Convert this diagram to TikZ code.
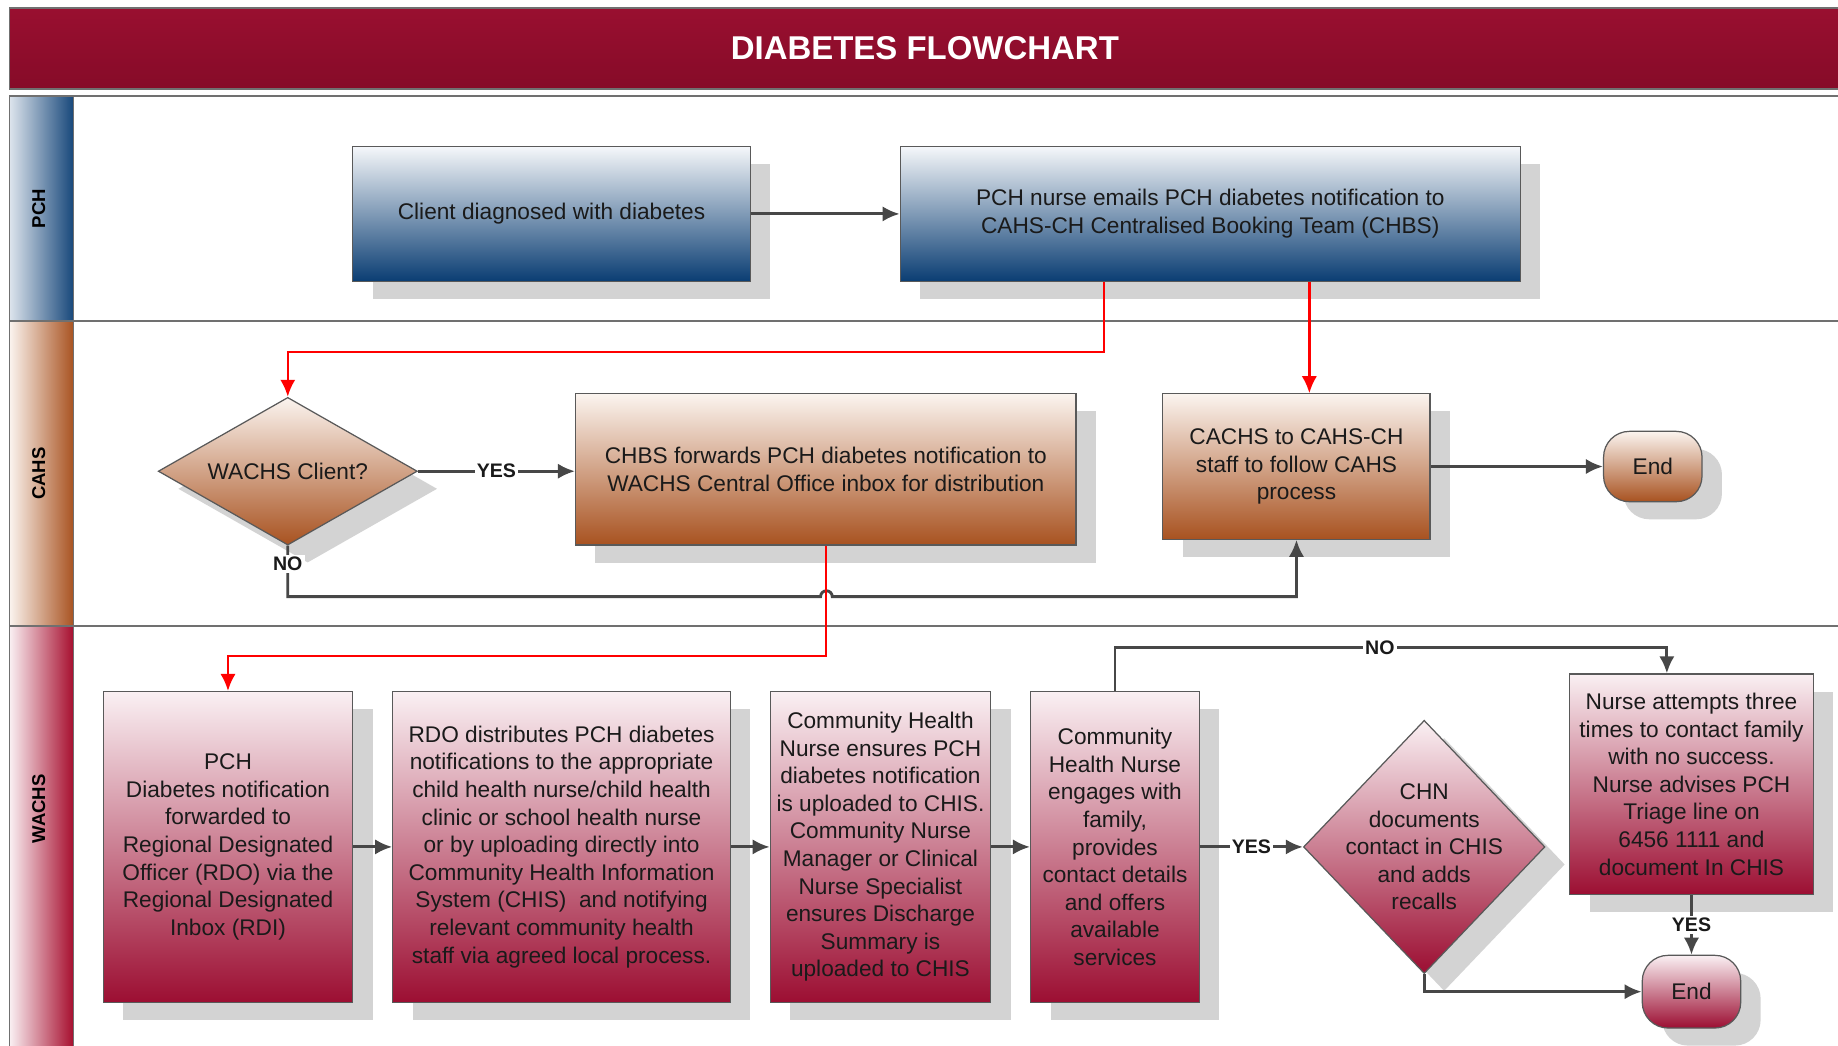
\documentclass[tikz,border=0pt]{standalone}
\usepackage{fontspec,graphicx}
\setmainfont{Liberation Sans}
\usetikzlibrary{arrows.meta,positioning,shapes.geometric,shadows}
\definecolor{crim}{HTML}{990F30}
\definecolor{crimdark}{HTML}{860B28}
\definecolor{navy}{HTML}{0A3D73}
\definecolor{navypale}{HTML}{F5F7FA}
\definecolor{rust}{HTML}{A85220}
\definecolor{rustpale}{HTML}{FBF4EF}
\definecolor{wine}{HTML}{9C0E32}
\definecolor{winepale}{HTML}{FAF0F3}
\definecolor{edge}{HTML}{595959}
\definecolor{wire}{HTML}{474747}
\definecolor{shadowgrey}{HTML}{D3D3D3}
\definecolor{lanerule}{HTML}{707070}
\definecolor{ink}{HTML}{1A1A1A}

\begin{document}
\begin{tikzpicture}[x=0.2mm,y=0.2mm,node distance=6.6mm,>={Latex[length=2.9mm,width=2.6mm]},every node/.style={font=\fontsize{11}{13.4}\selectfont,align=center,text=ink},shadowed/.style={drop shadow={shadow xshift=3.4mm,shadow yshift=-3mm,fill=shadowgrey,opacity=1}},pchbox/.style={draw=edge,line width=0.6pt,top color=navypale,bottom color=navy,shadowed,inner sep=2pt},cahsbox/.style={draw=edge,line width=0.6pt,top color=rustpale,bottom color=rust,shadowed,inner sep=2pt},wachsbox/.style={draw=edge,line width=0.6pt,top color=winepale,bottom color=wine,shadowed,inner sep=2pt,minimum height=53mm},decide/.style={diamond,inner sep=1pt},endbox/.style={rounded corners=4.4mm,minimum width=16.8mm,minimum height=12mm},gline/.style={draw=wire,line width=1.4pt},rline/.style={draw=red,line width=1.2pt},lbl/.style={font=\bfseries\fontsize{9.5}{11}\selectfont,fill=white,inner sep=1pt},lanetxt/.style={rotate=90,font=\bfseries\fontsize{9}{11}\selectfont,text=black}]
\useasboundingbox (0,0) rectangle (1568,-892);
\fill[white] (0,0) rectangle (1568,-892);
\shade[top color=crim,bottom color=crimdark,draw=lanerule,line width=0.8pt] (8,-7) rectangle (1600,-76);
\node[font=\bfseries\fontsize{16}{19}\selectfont,text=white] (title) at (789,-41) {DIABETES FLOWCHART};
\shade[left color=navypale!90!navy,right color=navy!95!white,draw=lanerule,line width=0.6pt] (8,-82) rectangle (63,-274);
\shade[left color=rustpale,right color=rust,draw=lanerule,line width=0.6pt] (8,-274) rectangle (63,-534);
\shade[left color=winepale,right color=wine!90!red,draw=lanerule,line width=0.6pt] (8,-534) rectangle (63,-900);
\draw[lanerule,line width=0.8pt] (1600,-82) -- (8,-82) -- (8,-900);
\draw[lanerule,line width=0.8pt] (8,-274) -- (1600,-274);
\draw[lanerule,line width=0.8pt] (8,-534) -- (1600,-534);
\node[lanetxt] (pchtag) at (33,-178) {PCH};
\node[lanetxt] (cahstag) at (33,-404) {CAHS};
\node[lanetxt] (wachstag) at (33,-690) {WACHS};

\node[pchbox,minimum width=67.8mm,minimum height=23mm] (client) at (470.5,-182.5) {Client diagnosed with diabetes};
\node[pchbox,minimum width=105.8mm,minimum height=23mm] (email) at (1032.5,-182.5) {PCH nurse emails PCH diabetes notification to\\CAHS-CH Centralised Booking Team (CHBS)};

\node[cahsbox,decide,aspect=1.75,minimum width=44.2mm,minimum height=25.2mm] (wachsq) at (245.5,-402) {WACHS Client?};
\node[cahsbox,minimum width=85.4mm,minimum height=25.8mm] (chbs) at (704.5,-400.5) {CHBS forwards PCH diabetes notification to\\WACHS Central Office inbox for distribution};
\node[cahsbox,minimum width=45.6mm,minimum height=24.8mm] (cachs) at (1106,-398) {CACHS to CAHS-CH\\staff to follow CAHS\\process};
\node[cahsbox,endbox] (cahsend) at (1410,-398) {End};
\coordinate (jump) at (700,-509);

\node[wachsbox,minimum width=42.6mm] (rdi) at (194.5,-722.5) {PCH\\Diabetes notification\\forwarded to\\Regional Designated\\Officer (RDO) via the\\Regional Designated\\Inbox (RDI)};
\node[wachsbox,minimum width=57.6mm,right=of rdi] (rdo) {RDO distributes PCH diabetes\\notifications to the appropriate\\child health nurse/child health\\clinic or school health nurse\\or by uploading directly into\\Community Health Information\\System (CHIS)\ \ and notifying\\relevant community health\\staff via agreed local process.};
\node[wachsbox,minimum width=37.6mm,right=of rdo] (upload) {Community Health\\Nurse ensures PCH\\diabetes notification\\is uploaded to CHIS.\\Community Nurse\\Manager or Clinical\\Nurse Specialist\\ensures Discharge\\Summary is\\uploaded to CHIS};
\node[wachsbox,minimum width=28.8mm,right=of upload] (engage) {Community\\Health Nurse\\engages with\\family,\\provides\\contact details\\and offers\\available\\services};
\node[wachsbox,decide,minimum width=41.2mm,minimum height=43.2mm,label={center:CHN\\documents\\contact in CHIS\\and adds\\recalls}] (chn) at (1215,-722.5) {};
\node[wachsbox,minimum width=41.6mm,minimum height=37.6mm] (triage) at (1443,-669) {Nurse attempts three\\times to contact family\\with no success.\\Nurse advises PCH\\Triage line on\\6456 1111 and\\document In CHIS};
\node[wachsbox,endbox,minimum height=12.4mm] (wachsend) at (1443,-846) {End};

\draw[gline,->] (client)--(email);
\draw[gline,->] (wachsq.east) -- node[lbl]{YES} (wachsq.east -| chbs.west);
\draw[gline,->] (cachs)--(cahsend);
\draw[gline,->] (wachsq.south) -- node[lbl,pos=0.35]{NO} (wachsq.south |- jump) -- (jump) arc[start angle=180,end angle=0,radius=1mm] -| (cachs.south);
\draw[rline,->] ([xshift=-18.1mm]email.south) |- ([yshift=7.6mm]wachsq.north) -- (wachsq.north);
\draw[rline,->] ([xshift=16.9mm]email.south) -- ([xshift=16.9mm]email.south |- cachs.north);
\draw[rline,->] (chbs.south) |- ([yshift=6mm]rdi.north) -- (rdi.north);
\draw[gline,->] (rdi)--(rdo);\draw[gline,->](rdo)--(upload);\draw[gline,->](upload)--(engage);
\draw[gline,->] (engage) -- node[lbl]{YES} (chn);
\draw[gline,->] (engage.north) |- node[lbl,pos=0.74]{NO} ([xshift=-4.2mm,yshift=4.4mm]triage.north) -- ([xshift=-4.2mm]triage.north);
\draw[gline,->] (triage) -- node[lbl]{YES} (wachsend);
\draw[gline,->] (chn.south) |- (wachsend.west);
\end{tikzpicture}
\end{document}
